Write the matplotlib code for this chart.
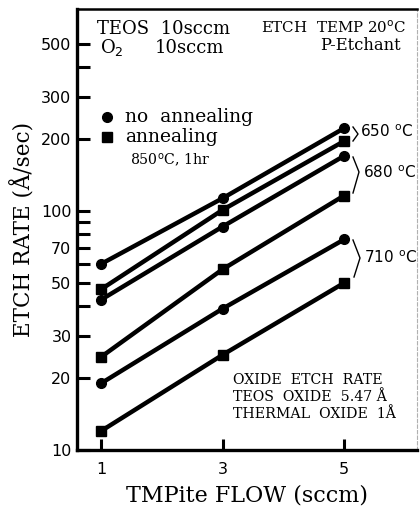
import matplotlib
matplotlib.use("Agg")
import matplotlib.pyplot as plt
from matplotlib.ticker import FixedLocator, FixedFormatter, NullLocator

# ---- data ----
flow = [1, 3, 5]
no_anneal_650 = [60, 113, 222]
anneal_650 = [47, 101, 196]
no_anneal_680 = [42.5, 86, 170]
anneal_680 = [24.5, 57, 116]
no_anneal_710 = [19, 39, 76]
anneal_710 = [12, 25, 50]

x_ticks = [1, 3, 5]
x_tick_labels = ["1", "3", "5"]
y_ticks = [10, 20, 30, 40, 50, 60, 70, 80, 90, 100, 200, 300, 400, 500]
y_tick_labels = ["10", "20", "30", "", "50", "", "70", "", "", "100", "200", "300", "", "500"]

W, H = 420, 516
fig = plt.figure(figsize=(W / 100, H / 100), dpi=100)
ax = fig.add_axes([77 / W, 1 - 450 / H, (417 - 77) / W, (450 - 9) / H])

def P(x, y):
    return (x / W, 1 - y / H)

serif = "DejaVu Serif"
sans = "DejaVu Sans"

series = [
    (no_anneal_650, "o"), (anneal_650, "s"),
    (no_anneal_680, "o"), (anneal_680, "s"),
    (no_anneal_710, "o"), (anneal_710, "s"),
]
for ys, m in series:
    ax.plot(flow, ys, color="black", lw=3.2, marker=m,
            markersize=7 if m == "o" else 6.5, markerfacecolor="black",
            markeredgecolor="black", solid_capstyle="butt")

ax.set_yscale("log")
ax.set_xlim(0.605, 6.20)
ax.set_ylim(10, 700)

ax.yaxis.set_major_locator(FixedLocator(y_ticks))
ax.yaxis.set_major_formatter(FixedFormatter(y_tick_labels))
ax.yaxis.set_minor_locator(NullLocator())
ax.xaxis.set_major_locator(FixedLocator(x_ticks))
ax.xaxis.set_major_formatter(FixedFormatter(x_tick_labels))
ax.xaxis.set_minor_locator(NullLocator())

ax.tick_params(axis="y", direction="in", length=9, width=2.2, pad=4,
               labelsize=11.5, left=True, right=False)
ax.tick_params(axis="x", direction="in", length=8, width=2.2, pad=9,
               labelsize=11.5, bottom=True, top=False)
for lab in ax.get_xticklabels() + ax.get_yticklabels():
    lab.set_family(sans)

for s in ["left", "bottom"]:
    ax.spines[s].set_linewidth(2.4)
ax.spines["top"].set_linewidth(1.8)
ax.spines["right"].set_linewidth(0.8)
ax.spines["right"].set_color("#b0b0b0")
ax.spines["right"].set_linestyle((0, (3, 2)))

ax.set_xlabel("TMPite FLOW (sccm)", family=serif, fontsize=16, labelpad=5)
ax.set_ylabel("ETCH RATE (Å/sec)", family=serif, fontsize=15.5, labelpad=4)

# header texts
fig.text(*P(97, 29), "TEOS  10sccm", family=serif, fontsize=13, va="center", ha="left")
fig.text(*P(100, 48), "O$_2$", family=serif, fontsize=13, va="center", ha="left")
fig.text(*P(155, 48), "10sccm", family=serif, fontsize=13, va="center", ha="left")
fig.text(*P(406, 28), "ETCH  TEMP 20$^{\\rm o}$C", family=serif, fontsize=10.8, va="center", ha="right")
fig.text(*P(401, 45), "P-Etchant", family=serif, fontsize=11.8, va="center", ha="right")

# legend
fig.lines.append(plt.Line2D([107 / W], [1 - 117 / H], marker="o", color="black",
                            markersize=7, transform=fig.transFigure, figure=fig))
fig.lines.append(plt.Line2D([107 / W], [1 - 137 / H], marker="s", color="black",
                            markersize=6.5, transform=fig.transFigure, figure=fig))
fig.text(*P(125, 117), "no  annealing", family=serif, fontsize=13.5, va="center", ha="left")
fig.text(*P(125, 137), "annealing", family=serif, fontsize=13.5, va="center", ha="left")
fig.text(*P(130, 160), "850$^{\\rm o}$C, 1hr", family=serif, fontsize=10.2, va="center", ha="left")

# brackets
def bracket(pts):
    xs = [p[0] / W for p in pts]
    ys = [1 - p[1] / H for p in pts]
    fig.lines.append(plt.Line2D(xs, ys, color="black", lw=1.0,
                                transform=fig.transFigure, figure=fig))

bracket([(353, 127), (358, 134), (353, 141)])
bracket([(353, 157), (359, 172), (353, 193)])
bracket([(353, 240), (360, 258), (354, 277)])
fig.text(*P(360, 132), "650 $^{\\rm o}$C", family=sans, fontsize=11, va="center", ha="left")
fig.text(*P(363, 173), "680 $^{\\rm o}$C", family=sans, fontsize=11, va="center", ha="left")
fig.text(*P(364, 258), "710 $^{\\rm o}$C", family=sans, fontsize=11, va="center", ha="left")

# oxide note
fig.text(*P(233, 380), "OXIDE  ETCH  RATE", family=serif, fontsize=10.2, va="center", ha="left")
fig.text(*P(233, 397), "TEOS  OXIDE  5.47 Å", family=serif, fontsize=10.2, va="center", ha="left")
fig.text(*P(233, 414), "THERMAL  OXIDE  1Å", family=serif, fontsize=10.2, va="center", ha="left")

fig.savefig("out.png", dpi=100)
